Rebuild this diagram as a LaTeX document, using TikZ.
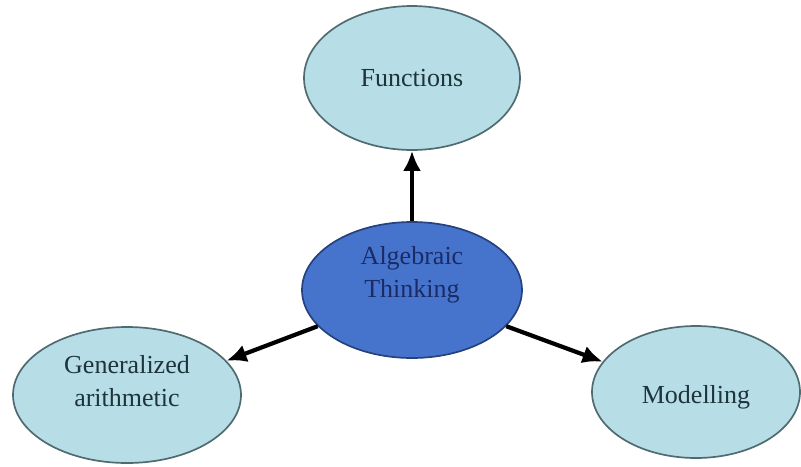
\documentclass[tikz,border=0pt]{standalone}
\usepackage{fontspec}
\setmainfont{Liberation Serif}
\usepackage{tikz}
\usetikzlibrary{arrows.meta,shapes}

\definecolor{paleblue}{HTML}{B7DDE6}
\definecolor{paleedge}{HTML}{4F6B70}
\definecolor{midblue}{HTML}{4674CC}
\definecolor{midedge}{HTML}{25417E}
\definecolor{outtext}{HTML}{1E343C}
\definecolor{intext}{HTML}{1A2B66}

\begin{document}
\begin{tikzpicture}[
    outer/.style = {
      ellipse,
      draw = paleedge,
      line width = 1.2pt,
      fill = paleblue
    },
    inner/.style = {
      ellipse,
      draw = midedge,
      line width = 1.2pt,
      fill = midblue
    },
    txt/.style = {
      align = center,
      font = \fontsize{18.5}{23}\selectfont
    },
    arr/.style = {
      line width = 3pt,
      -{Latex[length=5mm,width=4.5mm]}
    }
  ]

  \useasboundingbox (0,0) rectangle (20.025,-11.65);

  % ellipses
  \node[inner, minimum width = 5.5cm, minimum height = 3.4cm] (alg) at (10.3,-7.25) {};
  \node[outer, minimum width = 5.4cm, minimum height = 3.6cm] (fun) at (10.3,-1.95) {};
  \node[outer, minimum width = 5.7cm, minimum height = 3.4cm] (gen) at (3.175,-9.875) {};
  \node[outer, minimum width = 5.2cm, minimum height = 3.3cm] (mod) at (17.4,-9.8) {};

  % texts
  \node[txt, text = intext] (algtxt) at ([yshift=0.38cm]alg.center) {Algebraic\\Thinking};
  \node[txt, text = outtext] (funtxt) at (fun.center) {Functions};
  \node[txt, text = outtext] (gentxt) at ([yshift=0.35cm]gen.center) {Generalized\\arithmetic};
  \node[txt, text = outtext] (modtxt) at ([yshift=-0.12cm]mod.center) {Modelling};

  % arrows
  \draw[arr] (alg.north) -- (fun.south);
  \draw[arr] (alg.201) -- (gen.19);
  \draw[arr] (alg.339) -- (mod.162);

\end{tikzpicture}
\end{document}
